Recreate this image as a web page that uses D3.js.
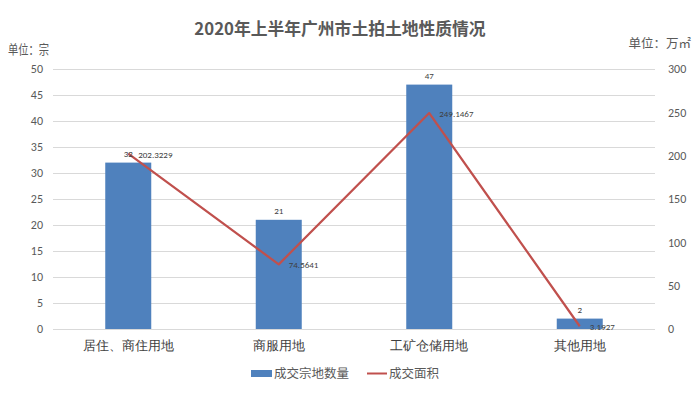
<!DOCTYPE html>
<html><head><meta charset="utf-8">
<script src="https://cdn.jsdelivr.net/npm/d3@7"></script>
<style>body{margin:0;background:#fff}svg{display:block;font-family:"Noto Sans CJK SC","Microsoft YaHei",sans-serif}</style>
</head><body><svg id="c" width="696" height="393"></svg>
<script>
const categories = ["居住、商住用地","商服用地","工矿仓储用地","其他用地"];
const counts = [32,21,47,2];
const areas = [202.3229,74.5641,249.1467,3.1927];
const leftTicks = [0,5,10,15,20,25,30,35,40,45,50];
const rightTicks = [0,50,100,150,200,250,300];
const titleText = "2020年上半年广州市土拍土地性质情况";
const seriesNames = ["成交宗地数量","成交面积"];

const svg = d3.select("#c");
const L=53,R=655,T=69,B=329;
const x = d3.scaleBand().domain(categories).range([L,R]);
const yL = d3.scaleLinear().domain([0,50]).range([B,T]);
const yR = d3.scaleLinear().domain([0,300]).range([B,T]);
const grey="#595959";

svg.append("text").attr("x",340).attr("y",35).attr("text-anchor","middle")
  .attr("font-size",16.8).attr("font-weight","bold").attr("fill",grey).text(titleText);
svg.append("text").attr("x",8).attr("y",54).attr("font-size",13).attr("fill",grey)
  .attr("textLength",41).attr("lengthAdjust","spacingAndGlyphs").text("单位：宗");
svg.append("text").attr("x",691).attr("y",48).attr("text-anchor","end").attr("font-size",12.5).attr("fill",grey).text("单位：万㎡");

// gridlines
svg.append("g").selectAll("line").data(leftTicks).join("line")
  .attr("x1",L).attr("x2",R).attr("y1",d=>yL(d)+0.5).attr("y2",d=>yL(d)+0.5)
  .attr("stroke","#d9d9d9").attr("stroke-width",1);

// left axis
const gl = svg.append("g").attr("transform",`translate(${L-10},0)`)
  .call(d3.axisLeft(yL).tickValues(leftTicks).tickSize(0).tickPadding(0));
gl.select(".domain").remove();
gl.selectAll("text").attr("font-size",12).attr("fill",grey).attr("font-family","Calibri,Carlito,'Liberation Sans',sans-serif");

const gr = svg.append("g").attr("transform",`translate(${R+13},0)`)
  .call(d3.axisRight(yR).tickValues(rightTicks).tickSize(0).tickPadding(0));
gr.select(".domain").remove();
gr.selectAll("text").attr("font-size",12).attr("fill",grey).attr("font-family","Calibri,Carlito,'Liberation Sans',sans-serif");

// x labels
const gx = svg.append("g").attr("transform",`translate(0,${B})`)
  .call(d3.axisBottom(x).tickSize(0).tickPadding(12));
gx.select(".domain").remove();
gx.selectAll("text").attr("font-size",13).attr("fill","#404040");

// bars
const bw=46;
svg.append("g").selectAll("rect").data(counts).join("rect")
  .attr("x",(d,i)=>x(categories[i])+x.bandwidth()/2-bw/2)
  .attr("y",d=>yL(d)).attr("width",bw).attr("height",d=>B-yL(d))
  .attr("fill","#4f81bd");

// line
const line = d3.line().x((d,i)=>x(categories[i])+x.bandwidth()/2).y(d=>yR(d));
svg.append("path").datum(areas).attr("d",line).attr("fill","none")
  .attr("stroke","#c0504d").attr("stroke-width",2.25).attr("stroke-linejoin","round");

// bar labels
svg.append("g").selectAll("text").data(counts).join("text")
  .attr("x",(d,i)=>x(categories[i])+x.bandwidth()/2)
  .attr("y",d=>yL(d)-6).attr("text-anchor","middle").attr("font-size",9).attr("fill","#404040")
  .attr("font-family","Calibri,Carlito,'Liberation Sans',sans-serif").text(d=>d);

// line labels
svg.append("g").selectAll("text").data(areas).join("text")
  .attr("x",(d,i)=>x(categories[i])+x.bandwidth()/2+10)
  .attr("y",d=>yR(d)+4).attr("font-size",9).attr("fill","#404040")
  .attr("font-family","Calibri,Carlito,'Liberation Sans',sans-serif").text(d=>d);

// legend
const lg = svg.append("g");
lg.append("rect").attr("x",251).attr("y",370).attr("width",21).attr("height",7).attr("fill","#4f81bd");
lg.append("text").attr("x",274).attr("y",378).attr("font-size",12.5).attr("fill",grey).text(seriesNames[0]);
lg.append("line").attr("x1",367).attr("x2",387).attr("y1",373.5).attr("y2",373.5).attr("stroke","#c0504d").attr("stroke-width",2);
lg.append("text").attr("x",389).attr("y",378).attr("font-size",12.5).attr("fill",grey).text(seriesNames[1]);
</script></body></html>
